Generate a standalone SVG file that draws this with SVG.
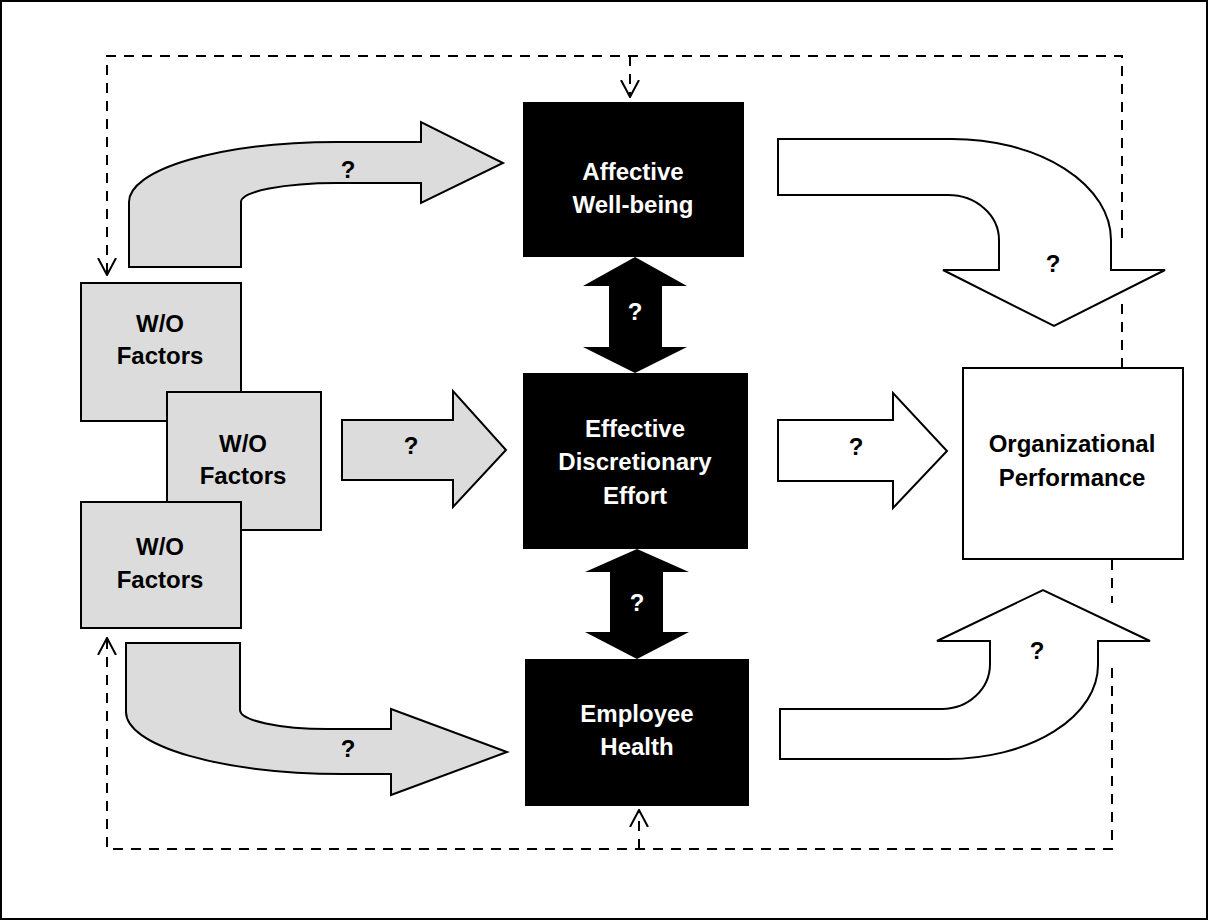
<svg xmlns="http://www.w3.org/2000/svg" width="1208" height="920" viewBox="0 0 1208 920">
  <style>
    .frame { fill: #ffffff; stroke: #000000; stroke-width: 2; }
    .gray { fill: #dcdcdc; stroke: #000000; stroke-width: 2; stroke-linejoin: miter; }
    .white { fill: #ffffff; stroke: #000000; stroke-width: 2; stroke-linejoin: miter; }
    .solid { fill: #000000; stroke: none; }
    .dash { fill: none; stroke: #000000; stroke-width: 2; stroke-dasharray: 10 8; }
    text { font-family: "Liberation Sans", Arial, sans-serif; font-weight: bold; font-size: 24px; text-anchor: middle; }
    .lt { fill: #ffffff; }
    .dk { fill: #000000; }
  </style>
  <defs>
    <marker id="openHead" markerUnits="userSpaceOnUse" viewBox="0 0 18 20" refX="17" refY="10" markerWidth="18" markerHeight="20" orient="auto">
      <path d="M0,1 L17,10 L0,19" fill="none" stroke="#000000" stroke-width="2"/>
    </marker>
  </defs>

  <rect class="frame" x="1" y="1" width="1206" height="918"/>

  <!-- feedback loops (dashed) -->
  <g id="connectors">
    <path class="dash" d="M1122,368 V302"/>
    <path class="dash" d="M1122,238 V56 H107 V275" marker-end="url(#openHead)"/>
    <path class="dash" d="M630,56 V97" marker-end="url(#openHead)"/>
    <path class="dash" d="M1112,560 V603"/>
    <path class="dash" d="M1112,668 V849 H107 V638" marker-end="url(#openHead)"/>
    <path class="dash" d="M639,849 V810" marker-end="url(#openHead)"/>
  </g>

  <!-- block arrows -->
  <g id="arrow-wo-affective">
    <path class="gray" d="M129,267 V202 A208,60 0 0 1 337,142 H421 V122 L503,163 L421,203 V183 H337 A96,19 0 0 0 241,202 V267 Z"/>
    <text class="dk" x="348" y="178">?</text>
  </g>
  <g id="arrow-wo-effort">
    <path class="gray" d="M342,420 H453 V391 L506,450 L453,507 V480 H342 Z"/>
    <text class="dk" x="411" y="454">?</text>
  </g>
  <g id="arrow-wo-health">
    <path class="gray" d="M126,643 H240 V710 A88,19 0 0 0 328,729 H391 V709 L507,752 L391,795 V774 H343 A217,62 0 0 1 126,712 Z"/>
    <text class="dk" x="348" y="757">?</text>
  </g>
  <g id="arrow-affective-perf">
    <path class="white" d="M778,139 H952 A159,101 0 0 1 1111,240 V270 H1165 L1054,326 L943,270 H999 V240 A51,45 0 0 0 948,195 H778 Z"/>
    <text class="dk" x="1053" y="272">?</text>
  </g>
  <g id="arrow-effort-perf">
    <path class="white" d="M778,420 H893 V393 L947,451 L893,508 V481 H778 Z"/>
    <text class="dk" x="856" y="455">?</text>
  </g>
  <g id="arrow-health-perf">
    <path class="white" d="M780,709 H942 A48,45 0 0 0 990,664 V641 H937 L1043,590 L1150,641 H1098 V665 A150,94 0 0 1 948,759 H780 Z"/>
    <text class="dk" x="1037" y="659">?</text>
  </g>
  <g id="arrow-affective-effort">
    <path class="solid" d="M635,257 L687,286 H662 V347 H687 L635,373 L583,347 H609 V286 H583 Z"/>
    <text class="lt" x="635" y="320">?</text>
  </g>
  <g id="arrow-effort-health">
    <path class="solid" d="M637,549 L689,572 H663 V632 H689 L637,659 L585,632 H610 V572 H585 Z"/>
    <text class="lt" x="637" y="611">?</text>
  </g>

  <!-- work/organisational factor boxes -->
  <g id="wo-factors-1">
    <rect class="gray" x="81" y="283" width="160" height="138"/>
    <text class="dk" x="160" y="332">W/O</text>
    <text class="dk" x="160" y="364">Factors</text>
  </g>
  <g id="wo-factors-2">
    <rect class="gray" x="167" y="392" width="154" height="138"/>
    <text class="dk" x="243" y="452">W/O</text>
    <text class="dk" x="243" y="484">Factors</text>
  </g>
  <g id="wo-factors-3">
    <rect class="gray" x="81" y="502" width="160" height="126"/>
    <text class="dk" x="160" y="555">W/O</text>
    <text class="dk" x="160" y="588">Factors</text>
  </g>

  <!-- central outcomes -->
  <g id="affective-wellbeing">
    <rect class="solid" x="523" y="102" width="221" height="155"/>
    <text class="lt" x="633" y="180">Affective</text>
    <text class="lt" x="633" y="213">Well-being</text>
  </g>
  <g id="discretionary-effort">
    <rect class="solid" x="523" y="373" width="225" height="176"/>
    <text class="lt" x="635" y="437">Effective</text>
    <text class="lt" x="635" y="470">Discretionary</text>
    <text class="lt" x="635" y="504">Effort</text>
  </g>
  <g id="employee-health">
    <rect class="solid" x="525" y="659" width="224" height="147"/>
    <text class="lt" x="637" y="722">Employee</text>
    <text class="lt" x="637" y="755">Health</text>
  </g>

  <g id="organizational-performance">
    <rect class="white" x="963" y="368" width="220" height="191"/>
    <text class="dk" x="1072" y="452">Organizational</text>
    <text class="dk" x="1072" y="486">Performance</text>
  </g>
</svg>
